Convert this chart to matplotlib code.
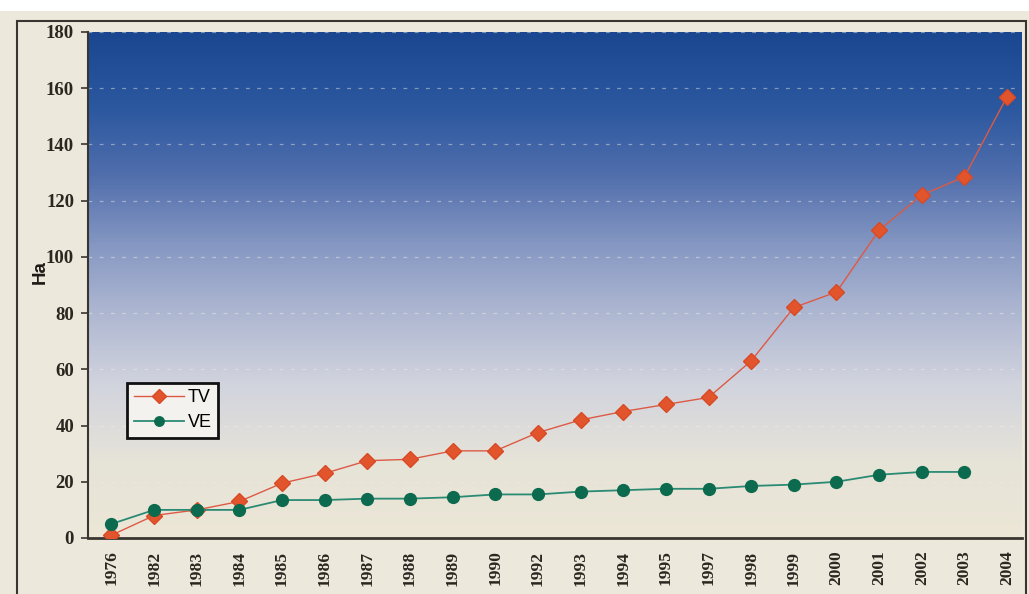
import matplotlib.pyplot as plt
import numpy as np
from matplotlib.colors import LinearSegmentedColormap
from matplotlib.patches import Rectangle

years = ['1976', '1982', '1983', '1984', '1985', '1986', '1987', '1988', '1989', '1990', '1992',
         '1993', '1994', '1995', '1997', '1998', '1999', '2000', '2001', '2002', '2003', '2004']
tv = [1, 8, 10, 13, 19.5, 23, 27.5, 28, 31, 31, 37.5, 42, 45, 47.5, 50, 63, 82, 87.5, 109.5, 122, 128.5, 157]
ve = [5, 10, 10, 10, 13.5, 13.5, 14, 14, 14.5, 15.5, 15.5, 16.5, 17, 17.5, 17.5, 18.5, 19, 20, 22.5, 23.5, 23.5]
yticks = list(range(0, 181, 20))

fig = plt.figure(figsize=(10.29, 5.94), dpi=100)
fig.patch.set_facecolor('#ece8dc')
# white strip at the top of the photo + outer frame
fig.patches.append(Rectangle((0, 1 - 11/594), 1, 11/594, transform=fig.transFigure,
                             facecolor='white', edgecolor='none', zorder=0))
fig.patches.append(Rectangle((17/1029, -0.01), 1009/1029, 1 - 21/594 + 0.01, transform=fig.transFigure,
                             facecolor='none', edgecolor='#3a3530', lw=1.5, zorder=1))

ax = fig.add_axes([88/1029, 1 - 538/594, 934/1029, 506/594])
x = np.arange(len(years))
ax.set_xlim(-0.55, len(years) - 0.65)
ax.set_ylim(0, 180)

# gradient background
cmap = LinearSegmentedColormap.from_list('bg', [
    (0.0, '#ece7d6'), (0.15, '#e6e3d8'), (0.30, '#d2d4de'), (0.45, '#adb6d1'),
    (0.58, '#8597c2'), (0.72, '#506eac'), (0.85, '#2c58a0'), (1.0, '#1b4791')])
grad = np.linspace(0, 1, 400).reshape(-1, 1)
ax.imshow(grad, extent=[-0.55, len(years) - 0.65, 0, 180], origin='lower', aspect='auto',
          cmap=cmap, zorder=0)

for t in yticks[1:]:
    ax.axhline(t, color='#f2efe6', lw=0.9, ls=(0, (3, 6)), alpha=0.45, zorder=1)

ax.plot(x, tv, color='#dc5a45', lw=1, marker='D', markersize=8.5, markerfacecolor='#e2542b',
        markeredgecolor='#d84a25', label='TV', zorder=3)
ax.plot(x[:len(ve)], ve, color='#2a8a74', lw=1.3, marker='o', markersize=8.5,
        markerfacecolor='#0c6a4e', markeredgecolor='#0c6a4e', label='VE', zorder=3)

ax.set_xticks(x)
ax.set_xticklabels(years, rotation=90, fontfamily='Liberation Serif', fontweight='bold',
                   fontsize=12.5, color='#2b2620')
ax.set_yticks(yticks)
ax.set_yticklabels([str(t) for t in yticks], fontfamily='Liberation Serif', fontweight='bold',
                   fontsize=13.5, color='#2b2620')
ax.tick_params(axis='x', length=0, pad=9)
ax.tick_params(axis='y', length=5, width=1.2, color='#3a3530', pad=5)
for s in ['top', 'right']:
    ax.spines[s].set_visible(False)
ax.spines['left'].set_color('#3a3530')
ax.spines['left'].set_linewidth(1.5)
ax.spines['bottom'].set_color('#3a3530')
ax.spines['bottom'].set_linewidth(2)

fig.text(40/1029, 1 - 272/594, 'Ha', rotation=90, fontfamily='Liberation Sans', fontweight='bold',
         fontsize=13.5, color='#1e1a16', ha='center', va='center')

leg = ax.legend(loc='lower left', bbox_to_anchor=(0.042, 0.198), frameon=True, fancybox=False,
                prop={'family': 'Liberation Sans', 'size': 13}, handlelength=2.8, markerscale=0.8,
                handletextpad=0.2, borderpad=0.35, labelspacing=0.45, borderaxespad=0)
leg.get_frame().set_edgecolor('#111111')
leg.get_frame().set_linewidth(2)
leg.get_frame().set_facecolor('#f3f2ee')
leg.get_frame().set_alpha(1)

fig.savefig('out.png', dpi=100, facecolor=fig.get_facecolor())
